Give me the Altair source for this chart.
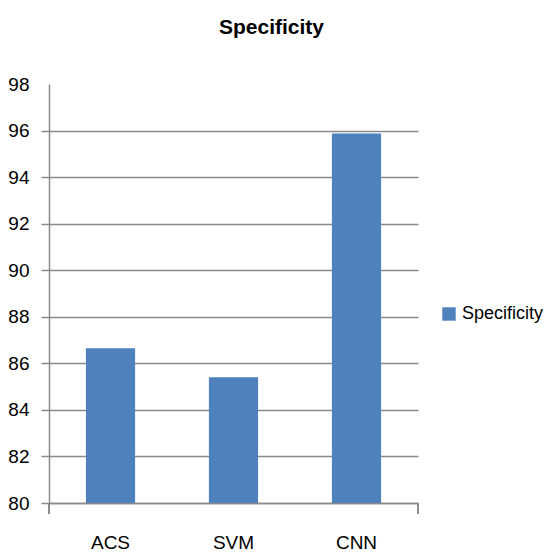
import altair as alt
import pandas as pd

categories = ["ACS", "SVM", "CNN"]
values = [86.65, 85.40, 95.87]
series_name = "Specificity"
y_ticks = [80, 82, 84, 86, 88, 90, 92, 94, 96, 98]

FONT = "Liberation Sans Narrow, Liberation Sans, Arial, sans-serif"
GRID = "#8a8a8a"
BLUE = "#4F81BD"

df = pd.DataFrame({"method": categories, "value": values, "series": [series_name] * len(categories)})

bars = alt.Chart(df).mark_bar(color=BLUE).encode(
    x=alt.X("method:N", sort=categories,
            scale=alt.Scale(paddingInner=0.6, paddingOuter=0.3),
            axis=alt.Axis(title=None, ticks=False, domain=True, domainColor=GRID,
                          domainWidth=1.5, labelAngle=0, labelFont=FONT, labelFontSize=19,
                          labelColor="black", labelPadding=30, labelBaseline="top", grid=False)),
    y=alt.Y("value:Q", scale=alt.Scale(domain=[80, 98], nice=False, zero=False),
            axis=alt.Axis(title=None, values=y_ticks, domain=True, domainColor=GRID, domainWidth=1.5,
                          tickColor=GRID, tickSize=8, tickWidth=1.5,
                          tickOpacity={"condition": {"test": "datum.value >= 98", "value": 0}, "value": 1},
                          grid=True, gridColor=GRID, gridWidth=1.5,
                          gridOpacity={"condition": {"test": "datum.value >= 98", "value": 0}, "value": 1},
                          labelFont=FONT, labelFontSize=19, labelColor="black", labelPadding=12)),
    y2=alt.datum(80),
    fill=alt.Fill("series:N", scale=alt.Scale(range=[BLUE]),
                  legend=alt.Legend(title=None, orient="none", legendX=391, legendY=221,
                                    symbolType="square", symbolSize=180, symbolStrokeWidth=0,
                                    labelFont=FONT, labelFontSize=18, labelColor="black",
                                    labelOffset=4, padding=0)),
)

edge_left = alt.Chart(df).mark_rule(color=GRID, strokeWidth=1.5).encode(
    x=alt.value(0), y=alt.value(419), y2=alt.value(430))
edge_right = alt.Chart(df).mark_rule(color=GRID, strokeWidth=1.5).encode(
    x=alt.value(369), y=alt.value(419), y2=alt.value(430))

chart = alt.layer(bars, edge_left, edge_right).properties(
    width=369, height=419,
    title=alt.TitleParams("Specificity", font=FONT, fontSize=21, fontWeight="bold", color="black",
                          anchor="middle", dx=38, offset=37),
    autosize=alt.AutoSizeParams(type="none"),
    padding={"left": 49, "top": 84, "right": 126, "bottom": 53},
).configure_view(stroke=None)

chart.save("out.html", embed_options={"renderer": "svg", "actions": False})
